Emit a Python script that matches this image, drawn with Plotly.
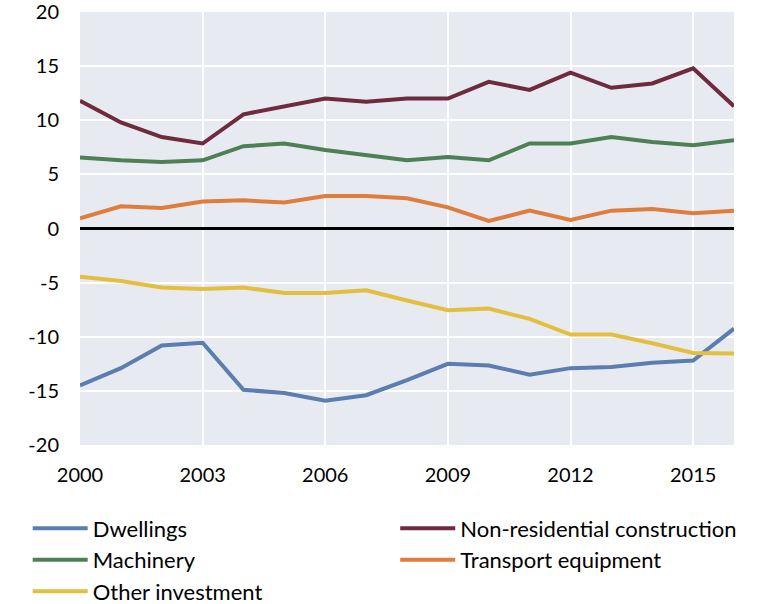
import plotly.graph_objects as go

years = list(range(2000, 2017))
dwellings = [-14.5, -12.9, -10.8, -10.55, -14.9, -15.2, -15.9, -15.4, -14.0, -12.5, -12.65, -13.5, -12.9, -12.8, -12.4, -12.2, -9.25]
non_residential = [11.8, 9.8, 8.45, 7.85, 10.55, 11.25, 12.0, 11.7, 12.0, 12.0, 13.55, 12.8, 14.4, 13.0, 13.4, 14.8, 11.3]
machinery = [6.55, 6.3, 6.15, 6.3, 7.6, 7.85, 7.25, 6.75, 6.3, 6.6, 6.3, 7.85, 7.85, 8.45, 8.0, 7.7, 8.15]
transport = [0.95, 2.05, 1.9, 2.5, 2.6, 2.4, 3.0, 3.0, 2.8, 1.95, 0.7, 1.65, 0.8, 1.65, 1.8, 1.4, 1.65]
other = [-4.45, -4.85, -5.45, -5.6, -5.45, -5.95, -5.95, -5.7, -6.65, -7.55, -7.4, -8.35, -9.8, -9.8, -10.6, -11.5, -11.55]

y_ticks = [-20, -15, -10, -5, 0, 5, 10, 15, 20]
y_labels = ["-20", "-15", "-10", "-5", "0", "5", "10", "15", "20"]
x_ticks = [2000, 2003, 2006, 2009, 2012, 2015]

series = [
    ("Dwellings", dwellings, "#5B7DB0", "legend"),
    ("Non-residential construction", non_residential, "#6E2B3E", "legend2"),
    ("Machinery", machinery, "#4D8055", "legend"),
    ("Transport equipment", transport, "#DF7D3C", "legend2"),
    ("Other investment", other, "#E2BF3E", "legend"),
]

fig = go.Figure()
for name, vals, col, leg in series:
    fig.add_trace(go.Scatter(x=years, y=vals, name=name, mode="lines",
                             line=dict(color=col, width=4), legend=leg))

legend_common = dict(orientation="v", yanchor="top", xanchor="left", itemwidth=55,
                     font=dict(size=22), tracegroupgap=0, bgcolor="rgba(0,0,0,0)")

fig.update_layout(
    width=784, height=604,
    margin=dict(l=80, r=50, t=12, b=159, autoexpand=False),
    paper_bgcolor="white",
    plot_bgcolor="#E8EAF1",
    font=dict(family="Lato", size=20, color="black"),
    legend=dict(x=-0.08, y=-0.144, **legend_common),
    legend2=dict(x=0.482, y=-0.144, **legend_common),
    showlegend=True,
)
fig.update_xaxes(range=[2000, 2016], tickvals=x_ticks,
                 showgrid=True, gridcolor="white", gridwidth=2,
                 zeroline=False, showline=False, ticks="", ticklabelstandoff=16,
                 ticklabeloverflow="allow", tickfont=dict(size=20))
fig.update_yaxes(range=[-20, 20], tickvals=y_ticks, ticktext=y_labels,
                 showgrid=True, gridcolor="white", gridwidth=2,
                 zeroline=True, zerolinecolor="black", zerolinewidth=3,
                 showline=False, ticks="", ticklabelstandoff=20,
                 ticklabeloverflow="allow", tickfont=dict(size=20))

fig.write_html("out.html", config={"displayModeBar": False},
               post_script="document.body.style.margin='0';")
